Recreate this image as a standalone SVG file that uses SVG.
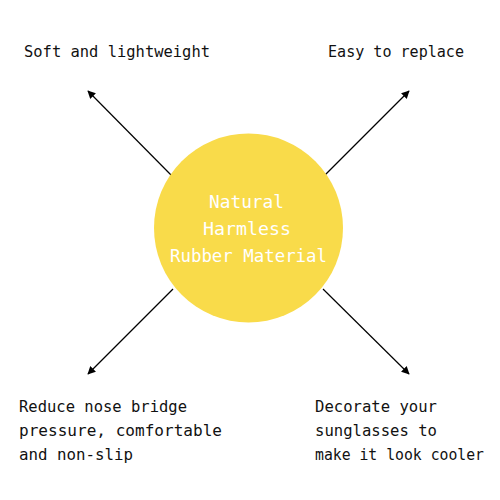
<svg xmlns="http://www.w3.org/2000/svg" width="500" height="500" viewBox="0 0 500 500">
<defs>
<marker id="ah" viewBox="0 0 10 10" refX="9" refY="5" markerWidth="8" markerHeight="8" markerUnits="userSpaceOnUse" orient="auto">
<path d="M0,0 L10,5 L0,10 z" fill="#000"/>
</marker>
<style>
.lbl{font-family:"DejaVu Sans Mono","Liberation Mono",monospace;font-size:16.5px;fill:#111}
.ctr{font-family:"DejaVu Sans Mono","Liberation Mono",monospace;font-size:18px;fill:#fff}
.ln{stroke:#000;stroke-width:1.2;fill:none;marker-end:url(#ah)}
</style>
</defs>
<rect width="500" height="500" fill="#fff"/>
<g id="connectors">
<line class="ln" x1="173" y1="177" x2="88" y2="91"/>
<line class="ln" x1="323" y1="177" x2="409" y2="91"/>
<line class="ln" x1="173" y1="289" x2="88" y2="374"/>
<line class="ln" x1="323" y1="289" x2="409" y2="374"/>
</g>
<g id="center">
<circle cx="248.5" cy="228" r="94.5" fill="#F9DB4A"/>
<text class="ctr" x="209" y="208" textLength="75" lengthAdjust="spacingAndGlyphs">Natural</text>
<text class="ctr" x="203" y="235" textLength="88" lengthAdjust="spacingAndGlyphs">Harmless</text>
<text class="ctr" x="170" y="262" textLength="157" lengthAdjust="spacingAndGlyphs">Rubber Material</text>
</g>
<g id="n-tl"><text class="lbl" x="24" y="57" textLength="186" lengthAdjust="spacingAndGlyphs">Soft and lightweight</text></g>
<g id="n-tr"><text class="lbl" x="328" y="57" textLength="136" lengthAdjust="spacingAndGlyphs">Easy to replace</text></g>
<g id="n-bl">
<text class="lbl" x="19" y="412" textLength="168" lengthAdjust="spacingAndGlyphs">Reduce nose bridge</text>
<text class="lbl" x="19" y="436" textLength="203" lengthAdjust="spacingAndGlyphs">pressure, comfortable</text>
<text class="lbl" x="19" y="460" textLength="114" lengthAdjust="spacingAndGlyphs">and non-slip</text>
</g>
<g id="n-br">
<text class="lbl" x="315" y="412" textLength="122" lengthAdjust="spacingAndGlyphs">Decorate your</text>
<text class="lbl" x="315" y="436" textLength="122" lengthAdjust="spacingAndGlyphs">sunglasses to</text>
<text class="lbl" x="315" y="460" style="font-size:15px" textLength="169" lengthAdjust="spacingAndGlyphs">make it look cooler</text>
</g>
</svg>
